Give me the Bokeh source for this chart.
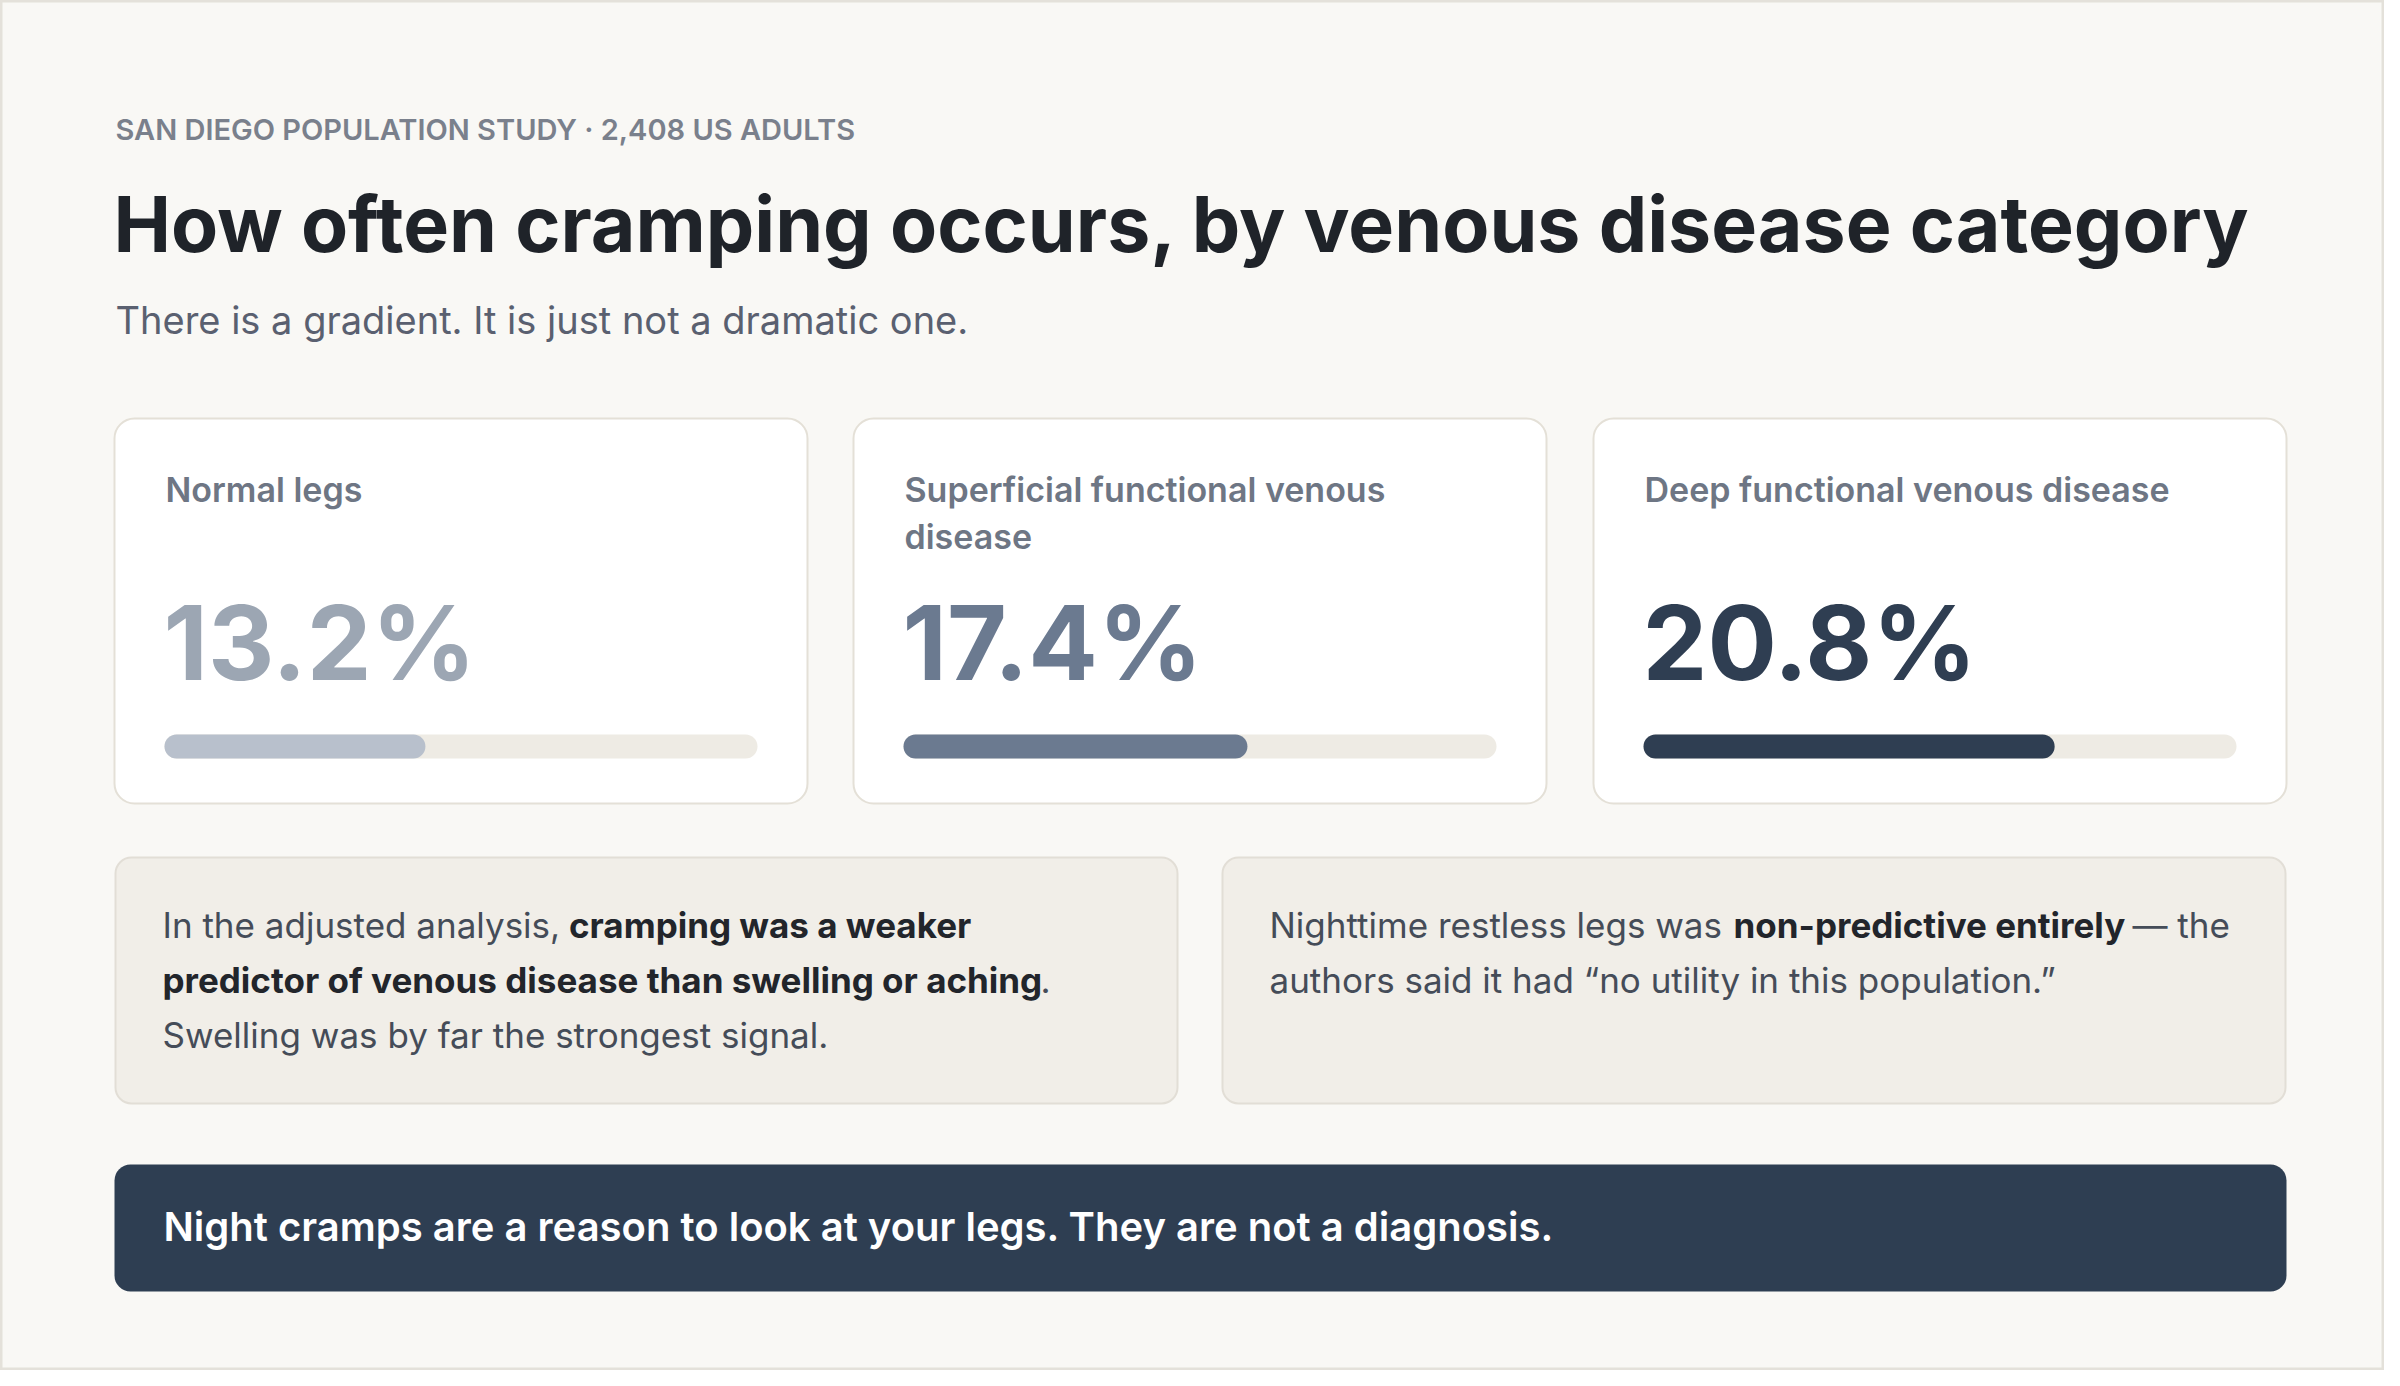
from bokeh.plotting import figure
from bokeh.models import Range1d, ColumnDataSource
from bokeh.core.properties import value
from bokeh.embed import file_html
from bokeh.resources import INLINE

# ---------------- data ----------------
eyebrow = "SAN DIEGO POPULATION STUDY · 2,408 US ADULTS"
title = "How often cramping occurs, by venous disease category"
subtitle = "There is a gradient. It is just not a dramatic one."

categories = ["Normal legs", "Superficial functional venous disease", "Deep functional venous disease"]
category_lines = [["Normal legs"], ["Superficial functional venous", "disease"], ["Deep functional venous disease"]]
cramp_pct = [13.2, 17.4, 20.8]
scale_max = 30.0

note1_lines = [
    [("In the adjusted analysis, ", False), ("cramping was a weaker", True)],
    [("predictor of venous disease than swelling or aching", True), (".", False)],
    [("Swelling was by far the strongest signal.", False)],
]
note2_lines = [
    [("Nighttime restless legs was ", False), ("non-predictive entirely", True), ("— the", False)],
    [("authors said it had \u201cno utility in this population.\u201d", False)],
]
takeaway = "Night cramps are a reason to look at your legs. They are not a diagnosis."

# ---------------- style ----------------
BG = "#f9f8f5"
FONT = value("Inter")
SEMI = value("Inter SemiBold, Inter")
value_colors = ["#9ca6b3", "#6b7a90", "#2f3e52"]
fill_colors = ["#b8c0cc", "#6b7a90", "#2f3e52"]

W, H = 2384, 1370
p = figure(width=W, height=H, x_range=Range1d(0, W), y_range=Range1d(H, 0),
           output_backend="svg", toolbar_location=None, min_border=0)
p.axis.visible = False
p.grid.visible = False
p.background_fill_color = BG
p.border_fill_color = BG
p.outline_line_color = "#e4e1da"
p.outline_line_width = 4

SHIFT = 0.37  # rendered baseline sits this many em below the anchor

def txt(x, y, s, size, color, style="normal", font=FONT):
    p.text(x=[x], y=[y - SHIFT * size], text=[s], text_font=font, text_font_size=f"{size}px",
           text_color=color, text_font_style=style, text_baseline="alphabetic",
           text_align="left")

# header
txt(115, 140, eyebrow, 29, "#7a808c", font=SEMI)
txt(113, 252, title, 77, "#1f2329", style="bold")
txt(115, 334, subtitle, 38, "#5a6070")

# cards
card_left = [114, 853, 1593]
card_w = 693
card_top, card_bot = 418, 803
cards = ColumnDataSource(dict(left=card_left, right=[l + card_w for l in card_left],
                              top=[card_top] * 3, bottom=[card_bot] * 3))
p.quad(left="left", right="right", top="top", bottom="bottom", source=cards,
       fill_color="white", line_color="#e4e0d7", line_width=2, border_radius=20)

pad = 50
track_w = card_w - 2 * pad
tracks = ColumnDataSource(dict(left=[l + pad for l in card_left],
                               right=[l + pad + track_w for l in card_left],
                               top=[734] * 3, bottom=[758] * 3))
p.quad(left="left", right="right", top="top", bottom="bottom", source=tracks,
       fill_color="#eeebe4", line_color=None, border_radius=12)
fills = ColumnDataSource(dict(left=[l + pad for l in card_left],
                              right=[l + pad + v / scale_max * track_w for l, v in zip(card_left, cramp_pct)],
                              top=[734] * 3, bottom=[758] * 3, color=fill_colors))
p.quad(left="left", right="right", top="top", bottom="bottom", source=fills,
       fill_color="color", line_color=None, border_radius=12)

for i, l in enumerate(card_left):
    for j, line in enumerate(category_lines[i]):
        txt(l + 51, 502 + j * 46.5, line, 34, "#6e7684", font=SEMI)
    txt(l + 49, 680, f"{cramp_pct[i]:.1f}%", 103, value_colors[i], style="bold")

# notes
notes = ColumnDataSource(dict(left=[115, 1222], right=[1177, 2285], top=[857, 857], bottom=[1103, 1103]))
p.quad(left="left", right="right", top="top", bottom="bottom", source=notes,
       fill_color="#f1eee8", line_color="#e2ded6", line_width=2, border_radius=16)

note1_x = [[162, 568.5], [162, 1040], [162]]
note2_x = [[1269, 1733], [1269]]
base = [937.5, 992.5, 1047]
for lines, xs in ((note1_lines, note1_x), (note2_lines, note2_x)):
    for k, (segs, xx) in enumerate(zip(lines, xs)):
        for (s, bold), x in zip(segs, xx + [2132]):
            txt(x, base[k], s, 35, "#22252b" if bold else "#454c58", style="bold" if bold else "normal")

# takeaway banner
p.quad(left=[114], right=[2286], top=[1164], bottom=[1291], fill_color="#2e3e52",
       line_color=None, border_radius=16)
txt(163, 1241, takeaway, 40, "#ffffff", font=SEMI)

open("out.html", "w").write(file_html(p, INLINE))
